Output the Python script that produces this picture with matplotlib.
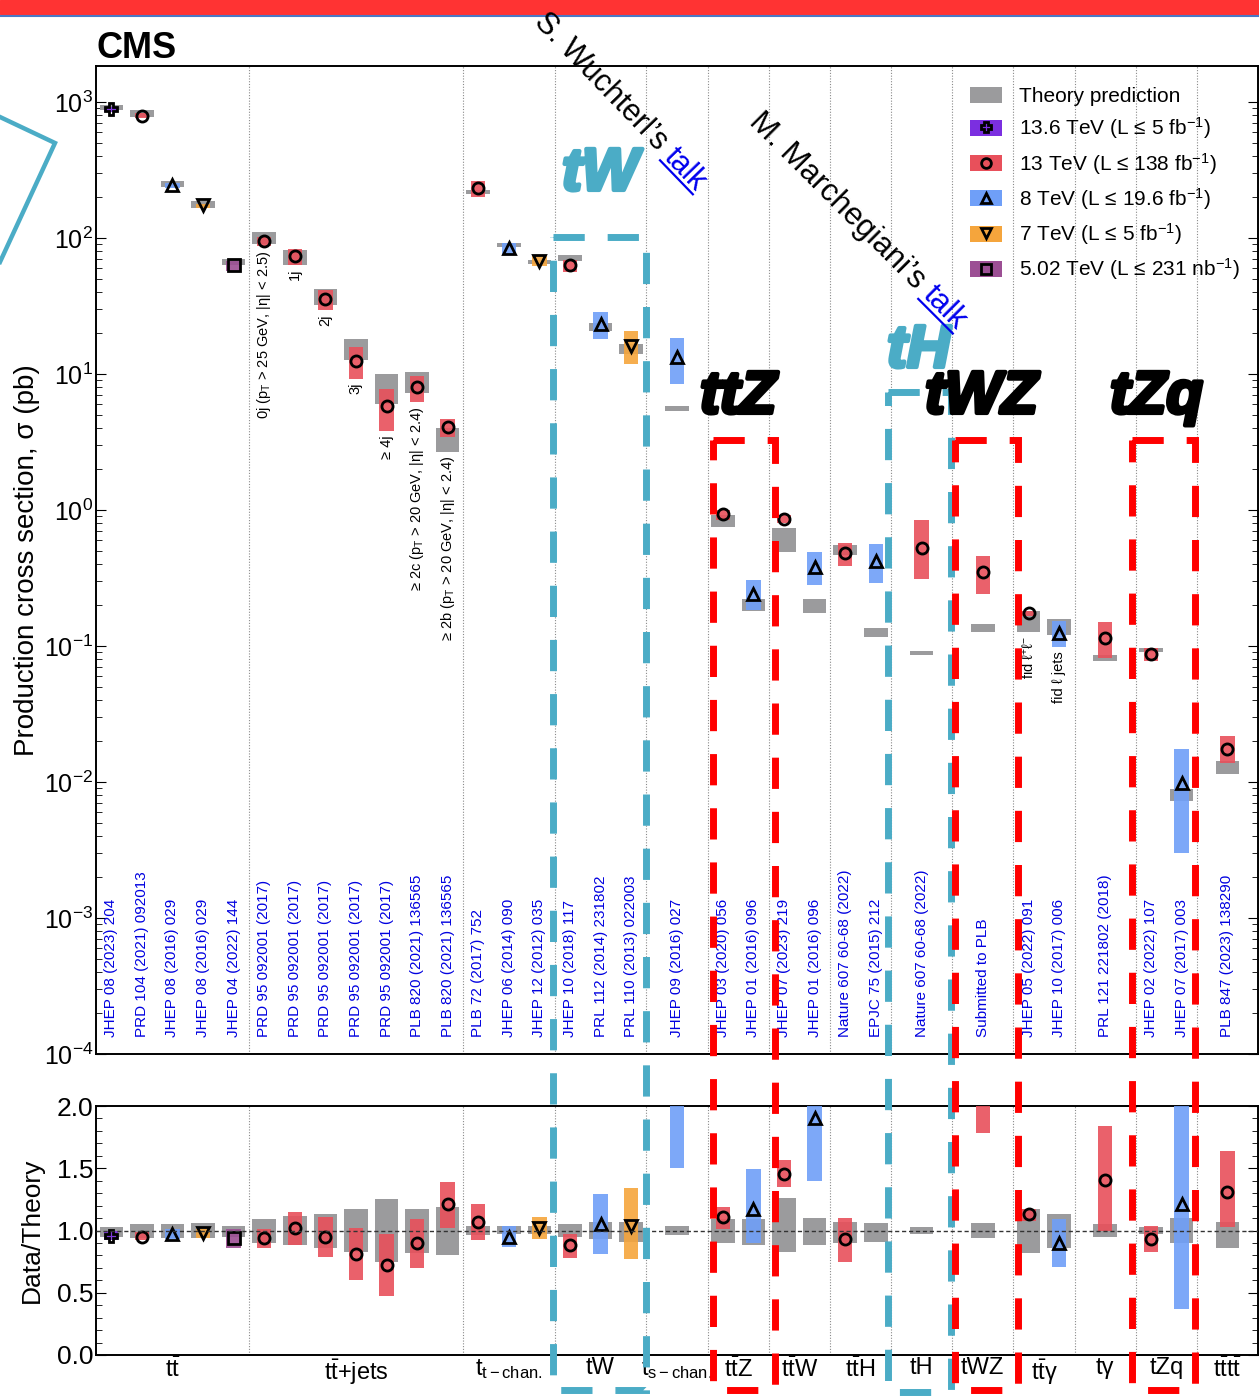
import matplotlib
matplotlib.use("Agg")
import matplotlib.pyplot as plt
import matplotlib.patheffects as pe
import matplotlib.transforms as mtransforms
from matplotlib.patches import Patch, Rectangle
from matplotlib.lines import Line2D
from matplotlib.ticker import LogLocator, MultipleLocator, NullFormatter, FormatStrFormatter
import numpy as np

plt.rcParams["font.family"] = ["Liberation Sans", "DejaVu Sans"]
plt.rcParams["mathtext.fontset"] = "custom"
plt.rcParams["mathtext.rm"] = "Liberation Sans"
plt.rcParams["mathtext.it"] = "Liberation Sans:italic"
plt.rcParams["mathtext.bf"] = "Liberation Sans:bold"

# ---------------- data ----------------
sections = [r"$\mathrm{t\bar{t}}$", r"$\mathrm{t\bar{t}}$+jets", r"$\mathrm{t_{t-chan.}}$", "tW",
            r"$\mathrm{t_{s-chan.}}$", r"$\mathrm{t\bar{t}Z}$", r"$\mathrm{t\bar{t}W}$", r"$\mathrm{t\bar{t}H}$",
            "tH", "tWZ", r"$\mathrm{t\bar{t}}$γ", "tγ", "tZq", r"$\mathrm{t\bar{t}t\bar{t}}$"]
section_npts = [5, 7, 3, 3, 1, 2, 2, 2, 1, 1, 2, 1, 2, 1]
section_width = [5, 7, 3, 3, 2, 2, 2, 2, 2, 2, 2, 2, 2, 2]

energy = ["13.6", "13", "8", "7", "5.02",
          "13", "13", "13", "13", "13", "13", "13",
          "13", "8", "7",
          "13", "8", "7",
          "8",
          "13", "8",
          "13", "8",
          "13", "8",
          "13",
          "13",
          "13", "8",
          "13",
          "13", "8",
          "13"]

# measured cross sections (pb)
xsec = [885, 791, 244, 174, 63,
        95, 74, 35.6, 12.5, 5.8, 8.0, 4.07,
        233, 84, 67.8,
        63, 23.3, 16.0,
        13.3,
        0.93, 0.24,
        0.86, 0.38,
        0.48, 0.42,
        0.53,
        0.35,
        0.175, 0.125,
        0.115,
        0.087, 0.0098,
        0.0175]
# theory predictions (pb)
theory = [924, 832, 252, 177, 67,
          101, 72.5, 37.5, 15.4, 8.05, 8.9, 3.36,
          218, 88.4, 66.5,
          71.6, 22.2, 15.5,
          5.6,
          0.84, 0.205,
          0.59, 0.20,
          0.516, 0.127,
          0.089,
          0.136,
          0.155, 0.139,
          0.0816,
          0.0935, 0.0081,
          0.0134]
# uncertainty bands relative to theory
data_lo = [0.92, 0.92, 0.93, 0.94, 0.86,
           0.86, 0.88, 0.79, 0.60, 0.47, 0.70, 1.02,
           0.92, 0.87, 0.93,
           0.78, 0.81, 0.77,
           1.50,
           1.01, 0.90,
           1.35, 1.40,
           0.75, 2.28,
           3.5,
           1.78,
           1.08, 0.71,
           1.00,
           0.83, 0.37,
           1.03]
data_hi = [1.00, 0.99, 1.01, 1.01, 1.01,
           1.01, 1.15, 1.11, 1.02, 0.97, 1.09, 1.39,
           1.21, 1.04, 1.11,
           0.97, 1.29, 1.34,
           3.27,
           1.19, 1.49,
           1.57, 2.45,
           1.10, 4.4,
           9.5,
           3.4,
           1.17, 1.09,
           1.84,
           1.04, 2.16,
           1.64]
theo_lo = [0.95, 0.94, 0.94, 0.94, 0.95,
           0.90, 0.88, 0.86, 0.83, 0.75, 0.82, 0.80,
           0.96, 0.97, 0.97,
           0.95, 0.93, 0.91,
           0.96,
           0.90, 0.88,
           0.83, 0.88,
           0.90, 0.91,
           0.97,
           0.94,
           0.82, 0.86,
           0.95,
           0.97, 0.90,
           0.86]
theo_hi = [1.03, 1.05, 1.05, 1.06, 1.04,
           1.09, 1.12, 1.13, 1.17, 1.25, 1.17, 1.19,
           1.04, 1.04, 1.04,
           1.05, 1.07, 1.07,
           1.04,
           1.09, 1.09,
           1.26, 1.10,
           1.07, 1.06,
           1.03,
           1.06,
           1.17, 1.13,
           1.05,
           1.03, 1.10,
           1.07]

refs = ["JHEP 08 (2023) 204", "PRD 104 (2021) 092013", "JHEP 08 (2016) 029", "JHEP 08 (2016) 029",
        "JHEP 04 (2022) 144",
        "PRD 95 092001 (2017)", "PRD 95 092001 (2017)", "PRD 95 092001 (2017)", "PRD 95 092001 (2017)",
        "PRD 95 092001 (2017)", "PLB 820 (2021) 136565", "PLB 820 (2021) 136565",
        "PLB 72 (2017) 752", "JHEP 06 (2014) 090", "JHEP 12 (2012) 035",
        "JHEP 10 (2018) 117", "PRL 112 (2014) 231802", "PRL 110 (2013) 022003",
        "JHEP 09 (2016) 027",
        "JHEP 03 (2020) 056", "JHEP 01 (2016) 096",
        "JHEP 07 (2023) 219", "JHEP 01 (2016) 096",
        "Nature 607 60-68 (2022)", "EPJC 75 (2015) 212",
        "Nature 607 60-68 (2022)",
        "Submitted to PLB",
        "JHEP 05 (2022) 091", "JHEP 10 (2017) 006",
        "PRL 121 221802 (2018)",
        "JHEP 02 (2022) 107", "JHEP 07 (2017) 003",
        "PLB 847 (2023) 138290"]

sublabels = {5: r"0j (p$_\mathrm{T}$ > 25 GeV, |η| < 2.5)", 6: "1j", 7: "2j", 8: "3j", 9: "≥ 4j",
             10: r"≥ 2c (p$_\mathrm{T}$ > 20 GeV, |η| < 2.4)",
             11: r"≥ 2b (p$_\mathrm{T}$ > 20 GeV, |η| < 2.4)",
             27: r"fid ℓ$^{+}$ℓ$^{-}$", 28: "fid ℓ jets"}

legend_energies = ["13.6", "13", "8", "7", "5.02"]
legend_labels = ["Theory prediction",
                 r"13.6 TeV (L ≤ 5 fb$^{-1}$)",
                 r"13 TeV (L ≤ 138 fb$^{-1}$)",
                 r"8 TeV (L ≤ 19.6 fb$^{-1}$)",
                 r"7 TeV (L ≤ 5 fb$^{-1}$)",
                 r"5.02 TeV (L ≤ 231 nb$^{-1}$)"]

colors = {"13.6": "#7b2fe0", "13": "#e8505b", "8": "#6f9ff8", "7": "#f5a53c", "5.02": "#9c4f94"}
markers = {"13.6": "P", "13": "o", "8": "^", "7": "v", "5.02": "s"}
grey = "#9b9b9d"
cyan = "#4bacc6"

# ---------------- layout ----------------
W, H = 1259, 1398
fig = plt.figure(figsize=(W / 100, H / 100), dpi=100)
ax = fig.add_axes([96 / W, 1 - 1054 / H, (1258 - 96) / W, (1054 - 66) / H])
ax2 = fig.add_axes([96 / W, 1 - 1355 / H, (1258 - 96) / W, (1355 - 1106) / H])

xpos, bounds, centers = [], [], []
start = 0
for n, w in zip(section_npts, section_width):
    for i in range(n):
        xpos.append(start + (w - n) / 2 + 0.5 + i)
    centers.append(start + w / 2)
    start += w
    bounds.append(start)
xpos = np.array(xpos)
xmax = start

th = np.array(theory)
xs = np.array(xsec)
dlo, dhi = np.array(data_lo), np.array(data_hi)
tlo, thi = np.array(theo_lo), np.array(theo_hi)
cols = [colors[e] for e in energy]

# main panel
ax.bar(xpos, th * (thi - tlo), bottom=th * tlo, width=0.77, color=grey, zorder=2)
ax.bar(xpos, th * (dhi - dlo), bottom=th * dlo, width=0.47, color=cols, alpha=0.9, zorder=3)
# ratio panel
ax2.bar(xpos, thi - tlo, bottom=tlo, width=0.77, color=grey, zorder=2)
ax2.bar(xpos, dhi - dlo, bottom=dlo, width=0.47, color=cols, alpha=0.9, zorder=3)
ratio = xs / th
for e in legend_energies:
    m = np.array([en == e for en in energy])
    kw = dict(ls="none", marker=markers[e], ms=8, mfc="none", mec="black", mew=2, zorder=5)
    ax.plot(xpos[m], xs[m], **kw)
    ax2.plot(xpos[m], ratio[m], **kw)

for b in bounds[:-1]:
    for a in (ax, ax2):
        a.axvline(b, color="#8a8a8a", lw=0.8, ls=(0, (1, 1.5)), zorder=1)
ax2.axhline(1.0, color="#333333", lw=1.0, ls=(0, (3, 2)), zorder=6)

ax.set_yscale("log")
ax.set_ylim(1e-4, 10 ** 3.265)
ax.set_xlim(0, xmax)
ax2.set_xlim(0, xmax)
ax2.set_ylim(0, 2.0)
ax.yaxis.set_major_locator(LogLocator(base=10, numticks=20))
ax.yaxis.set_minor_locator(LogLocator(base=10, subs=np.arange(2, 10), numticks=50))
ax.yaxis.set_minor_formatter(NullFormatter())
ax2.yaxis.set_major_locator(MultipleLocator(0.5))
ax2.yaxis.set_minor_locator(MultipleLocator(0.1))
ax2.yaxis.set_major_formatter(FormatStrFormatter("%.1f"))
ax2.yaxis.set_minor_formatter(NullFormatter())
for a, ls in ((ax, 18), (ax2, 19)):
    a.set_xticks([])
    a.tick_params(axis="y", which="both", direction="in", right=True, labelsize=ls, pad=2)
    a.tick_params(axis="y", which="major", length=7)
    a.tick_params(axis="y", which="minor", length=4)
    for s in a.spines.values():
        s.set_linewidth(1.4)

ax.set_ylabel("Production cross section, σ (pb)", fontsize=20)
ax.yaxis.set_label_coords((40 - 96) / 1162, 0.5)
ax2.set_ylabel("Data/Theory", fontsize=19)
ax2.yaxis.set_label_coords((44 - 96) / 1162, 0.5)

tr = mtransforms.blended_transform_factory(ax.transData, ax.transAxes)
for x, r in zip(xpos, refs):
    ax.text(x, 0.017, r, transform=tr, rotation=90, ha="center", va="bottom",
            color="#0000e0", fontsize=11, zorder=4)

for i, s in sublabels.items():
    low = min(th[i] * tlo[i], th[i] * dlo[i])
    ax.annotate(s, (xpos[i], low), xytext=(0, -3), textcoords="offset points",
                rotation=90, ha="center", va="top", fontsize=10.5)

tr2 = mtransforms.blended_transform_factory(ax2.transData, ax2.transAxes)
for c, name in zip(centers, sections):
    ax2.text(c, -0.01, name, transform=tr2, ha="center", va="top", fontsize=17)

handles = [Patch(facecolor=grey)]
for e in legend_energies:
    handles.append((Patch(facecolor=colors[e]),
                    Line2D([], [], ls="none", marker=markers[e], ms=7, mfc="none", mec="black", mew=2)))
ax.legend(handles, legend_labels, loc="upper left", bbox_to_anchor=(0.752, 0.979), frameon=False,
          fontsize=15, handlelength=1.55, handleheight=0.8, handletextpad=0.8, labelspacing=0.45,
          borderpad=0, borderaxespad=0)

# ---------------- slide annotations (pixel coordinates) ----------------
ov = fig.add_axes([0, 0, 1, 1], zorder=20)
ov.set_xlim(0, W)
ov.set_ylim(H, 0)
ov.axis("off")
ov.add_patch(Rectangle((0, 0), W, 14, color="#ff3333", zorder=1))
ov.plot([0, W], [15.5, 15.5], color="#4a78c4", lw=1.5, zorder=1)
ov.text(97, 58, "CMS", fontsize=26, fontweight="bold", ha="left", va="baseline")
ov.plot([0, 55, 0], [117, 143, 262], color=cyan, lw=3.2, solid_joinstyle="miter")

for s, x, y, c in [("tW", 562, 190, cyan), ("ttZ", 700, 413, "black"), ("tH", 887, 367, cyan),
                   ("tWZ", 925, 413, "black"), ("tZq", 1110, 413, "black")]:
    ov.text(x, y, s, fontsize=43, fontweight="bold", style="italic", color=c, ha="left", va="baseline",
            path_effects=[pe.withStroke(linewidth=3, foreground=c)], zorder=3)

boxes = [((553, 237, 646, 1390), cyan), ((888, 392, 951, 1392), cyan),
         ((713, 440, 775, 1390), "#ff0000"), ((955, 440, 1018, 1390), "#ff0000"),
         ((1132, 440, 1195, 1390), "#ff0000")]
for (x0, y0, x1, y1), c in boxes:
    ov.add_patch(Rectangle((x0, y0), x1 - x0, y1 - y0, fill=False, ec=c, lw=5,
                           ls=(0, (4.5, 3.3)), joinstyle="miter", zorder=2))

renderer = fig.canvas.get_renderer()


def width_px(s, size):
    t = ov.text(0, 0, s, fontsize=size)
    w = t.get_window_extent(renderer=renderer).width
    t.remove()
    return w


for name, x0, y0, ang, size in [("S. Wuchterl’s", 533, 23, 46, 22), ("M. Marchegiani’s", 748, 123, 45, 22.5)]:
    ov.text(x0, y0, name, rotation=-ang, rotation_mode="anchor", ha="left", va="baseline",
            fontsize=size, zorder=4)
    off = width_px(name + " talk", size) - width_px("talk", size)
    ca, sa = np.cos(np.radians(ang)), np.sin(np.radians(ang))
    tx, ty = x0 + off * ca, y0 + off * sa
    ov.text(tx, ty, "talk", rotation=-ang, rotation_mode="anchor", ha="left", va="baseline",
            fontsize=size, color="#0000ee", zorder=4)
    wl = width_px("talk", size)
    ux, uy = tx - 4 * sa, ty + 4 * ca
    ov.plot([ux, ux + wl * ca], [uy, uy + wl * sa], color="#0000ee", lw=1.6, zorder=4)

fig.savefig("out.png", dpi=100)
